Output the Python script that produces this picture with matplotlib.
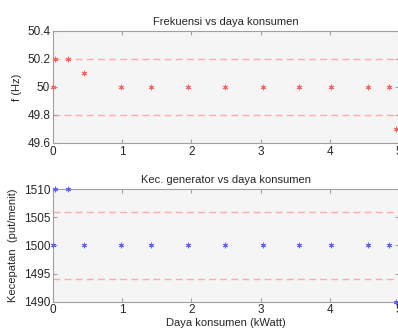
import matplotlib
matplotlib.use("Agg")
import matplotlib.pyplot as plt

daya = [0.0, 0.03, 0.22, 0.45, 0.98, 1.42, 1.95, 2.49, 3.04, 3.56, 4.02, 4.55, 4.85, 4.96]
frek = [50.0, 50.2, 50.2, 50.1, 50.0, 50.0, 50.0, 50.0, 50.0, 50.0, 50.0, 50.0, 50.0, 49.7]
kec = [1500, 1510, 1510, 1500, 1500, 1500, 1500, 1500, 1500, 1500, 1500, 1500, 1500, 1490]
frek_batas = [50.2, 49.8]
kec_batas = [1506, 1494]
xticks = [0, 1, 2, 3, 4, 5]
frek_ticks = [49.6, 49.8, 50, 50.2, 50.4]
frek_ticklabels = ["49.6", "49.8", "50", "50.2", "50.4"]
kec_ticks = [1490, 1495, 1500, 1505, 1510]

plt.rcParams['font.family'] = ['Liberation Sans', 'DejaVu Sans']
fig = plt.figure(figsize=(3.98, 3.29), dpi=100)
fig.patch.set_facecolor('white')

W, H = 398.0, 329.0
ax1 = fig.add_axes([53 / W, 1 - 143 / H, (399 - 53) / W, (143 - 31) / H])
ax2 = fig.add_axes([53 / W, 1 - 301.7 / H, (399 - 53) / W, (301.7 - 189) / H])

asterisk = (6, 2, 0)

def style(ax):
    ax.set_facecolor('#f5f5f5')
    for s in ax.spines.values():
        s.set_color('#a0a0a0')
        s.set_linewidth(0.8)
    ax.tick_params(direction='in', top=True, right=True, length=3,
                   color='#a0a0a0', labelcolor='#262626', labelsize=8.5, pad=2)
    ax.set_xlim(0, 5)
    ax.set_xticks(xticks)

for y in frek_batas:
    ax1.axhline(y, color='#ffaaaa', linestyle=(0, (5, 3)), linewidth=1.0, zorder=1)
ax1.plot(daya, frek, linestyle='none', marker=asterisk, markersize=4,
         markeredgewidth=0.6, color='#ff6060', clip_on=False, zorder=3)
style(ax1)
ax1.set_ylim(49.6, 50.4)
ax1.set_yticks(frek_ticks)
ax1.set_yticklabels(frek_ticklabels)
ax1.set_ylabel('f (Hz)', fontsize=8, color='#262626', labelpad=4)
ax1.set_title('Frekuensi vs daya konsumen', fontsize=8, color='#262626', pad=4)

for y in kec_batas:
    ax2.axhline(y, color='#ffaaaa', linestyle=(0, (5, 3)), linewidth=1.0, zorder=1)
ax2.plot(daya, kec, linestyle='none', marker=asterisk, markersize=4,
         markeredgewidth=0.6, color='#6060ff', clip_on=False, zorder=3)
style(ax2)
ax2.set_ylim(1490, 1510)
ax2.set_yticks(kec_ticks)
ax2.set_ylabel('Kecepatan  (put/menit)', fontsize=8, color='#262626', labelpad=4)
ax2.set_xlabel('Daya konsumen (kWatt)', fontsize=8, color='#262626', labelpad=1)
ax2.set_title('Kec. generator vs daya konsumen', fontsize=8, color='#262626', pad=4)

fig.savefig('out.png', dpi=100, facecolor='white')
